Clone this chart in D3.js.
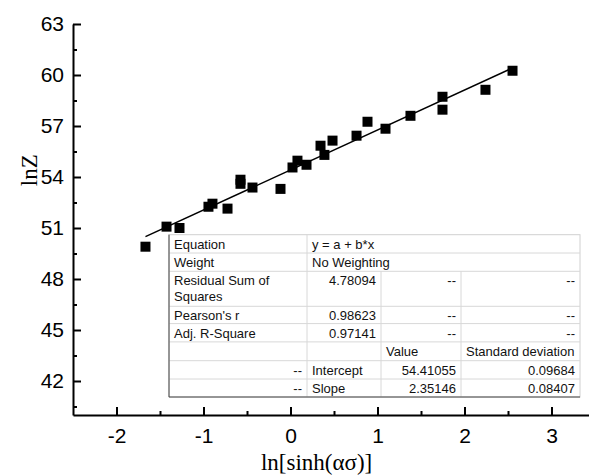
<!DOCTYPE html>
<html>
<head>
<meta charset="utf-8">
<script src="https://cdn.jsdelivr.net/npm/d3@7"></script>
<style>
  body { margin: 0; background: #fff; }
  svg { display: block; }
</style>
</head>
<body>
<svg width="589" height="475"></svg>
<script>
// measured points: ln[sinh(ασ)] vs lnZ
const xVals = [-1.667, -1.425, -1.276, -0.943, -0.897, -0.724, -0.575, -0.575,
  -0.437, -0.115, 0.023, 0.08, 0.184, 0.345, 0.39, 0.483, 0.759, 0.885,
  1.092, 1.379, 1.747, 1.747, 2.241, 2.552];
const yVals = [49.9, 51.08, 51.0, 52.25, 52.43, 52.14, 53.84, 53.6,
  53.38, 53.3, 54.56, 54.96, 54.72, 55.84, 55.3, 56.14, 56.43, 57.25,
  56.84, 57.6, 58.72, 57.96, 59.13, 60.25];

const intercept = 54.41055;
const slope = 2.35146;

const xTicks = [-2, -1, 0, 1, 2, 3];
const xMinor = [-1.5, -0.5, 0.5, 1.5, 2.5];
const yTicks = [42, 45, 48, 51, 54, 57, 60, 63];
const yMinor = [40.5, 43.5, 46.5, 49.5, 52.5, 55.5, 58.5, 61.5];

// fit report table rows
const tableRows = [
  ["Equation", "y = a + b*x"],
  ["Weight", "No Weighting"],
  ["Residual Sum of\nSquares", "4.78094", "--", "--"],
  ["Pearson's r", "0.98623", "--", "--"],
  ["Adj. R-Square", "0.97141", "--", "--"],
  ["", "", "Value", "Standard deviation"],
  ["--", "Intercept", "54.41055", "0.09684"],
  ["--", "Slope", "2.35146", "0.08407"]
];

const svg = d3.select("svg");

const x = d3.scaleLinear().domain([-2.5, 3.5]).range([73, 595]);
const y = d3.scaleLinear().domain([40, 63]).range([415, 24]);

const font = "Liberation Sans, Arial, sans-serif";
const serif = "Liberation Serif, Times New Roman, serif";

// minor ticks
svg.append("g")
  .attr("transform", `translate(0, ${y(40)})`)
  .call(d3.axisBottom(x).tickValues(xMinor).tickSize(-4).tickFormat(""))
  .call(g => g.select(".domain").remove())
  .call(g => g.selectAll("line").attr("stroke-width", 2));

svg.append("g")
  .attr("transform", `translate(${x(-2.5)}, 0)`)
  .call(d3.axisLeft(y).tickValues(yMinor).tickSize(-4).tickFormat(""))
  .call(g => g.select(".domain").remove())
  .call(g => g.selectAll("line").attr("stroke-width", 2));

// major axes
const xAxis = svg.append("g")
  .attr("transform", `translate(0, ${y(40)})`)
  .call(d3.axisBottom(x).tickValues(xTicks).tickFormat(d => String(d))
    .tickSizeInner(-8).tickSizeOuter(0).tickPadding(13));

const yAxis = svg.append("g")
  .attr("transform", `translate(${x(-2.5)}, 0)`)
  .call(d3.axisLeft(y).tickValues(yTicks).tickFormat(d => String(d))
    .tickSizeInner(-8).tickSizeOuter(0).tickPadding(9));

[xAxis, yAxis].forEach(a => {
  a.select(".domain").attr("stroke-width", 2);
  a.selectAll(".tick line").attr("stroke-width", 2);
  a.selectAll(".tick text")
    .attr("font-family", font)
    .attr("font-size", 21)
    .attr("fill", "#000");
});

// axis titles
svg.append("text")
  .attr("x", x(0.3))
  .attr("y", 470)
  .attr("text-anchor", "middle")
  .attr("font-family", serif)
  .attr("font-size", 23)
  .text("ln[sinh(ασ)]");

svg.append("text")
  .attr("transform", `translate(37, ${y(54.4)}) rotate(-90)`)
  .attr("text-anchor", "middle")
  .attr("font-family", serif)
  .attr("font-size", 23)
  .text("lnZ");

// fit line
const xExt = d3.extent(xVals);
svg.append("line")
  .attr("x1", x(xExt[0]))
  .attr("y1", y(intercept + slope * xExt[0]))
  .attr("x2", x(xExt[1]))
  .attr("y2", y(intercept + slope * xExt[1]))
  .attr("stroke", "#000")
  .attr("stroke-width", 1.5);

// points
const pts = xVals.map((v, i) => ({ x: v, y: yVals[i] }));
const size = 10;
svg.append("g")
  .selectAll("rect")
  .data(pts)
  .join("rect")
  .attr("x", d => x(d.x) - size / 2)
  .attr("y", d => y(d.y) - size / 2)
  .attr("width", size)
  .attr("height", size)
  .attr("fill", "#000");

// table
const tx = 169, ty = 234.7;
const colX = [169, 307, 381, 461, 580];
const rowH = [18.3, 18.3, 35, 17.3, 18.3, 18.8, 18.3, 18];
const rowY = [ty];
rowH.forEach(h => rowY.push(rowY[rowY.length - 1] + h));

const tbl = svg.append("g").attr("font-family", font).attr("font-size", 13).attr("fill", "#111");

tbl.append("rect")
  .attr("x", tx).attr("y", ty)
  .attr("width", colX[4] - tx).attr("height", rowY[8] - ty)
  .attr("fill", "#fff")
  .attr("stroke", "#d0d0d0");

// horizontal inner lines
for (let i = 1; i < 8; i++) {
  tbl.append("line")
    .attr("x1", tx).attr("x2", colX[4])
    .attr("y1", rowY[i]).attr("y2", rowY[i])
    .attr("stroke", "#d8d8d8");
}
// vertical inner lines
tbl.append("line")
  .attr("x1", colX[1]).attr("x2", colX[1])
  .attr("y1", ty).attr("y2", rowY[8])
  .attr("stroke", "#d8d8d8");
[2, 3].forEach(c => {
  tbl.append("line")
    .attr("x1", colX[c]).attr("x2", colX[c])
    .attr("y1", rowY[2]).attr("y2", rowY[8])
    .attr("stroke", "#d8d8d8");
});
// darker left and bottom border
tbl.append("path")
  .attr("d", `M${tx},${ty}V${rowY[8]}H${colX[4]}`)
  .attr("fill", "none")
  .attr("stroke", "#444");

const rightAligned = (r, c) => {
  if (r <= 1) return false;
  if (r === 5) return false;
  if (c === 0) return r >= 6;
  if (c === 1) return r < 5;
  return true;
};

tableRows.forEach((row, r) => {
  row.forEach((cell, c) => {
    if (!cell) return;
    const right = rightAligned(r, c);
    const lines = cell.split("\n");
    lines.forEach((ln, k) => {
      tbl.append("text")
        .attr("x", right ? colX[c + 1] - 5 : colX[c] + 5)
        .attr("y", rowY[r] + 14 + k * 15.5)
        .attr("text-anchor", right ? "end" : "start")
        .text(ln);
    });
  });
});
</script>
</body>
</html>
